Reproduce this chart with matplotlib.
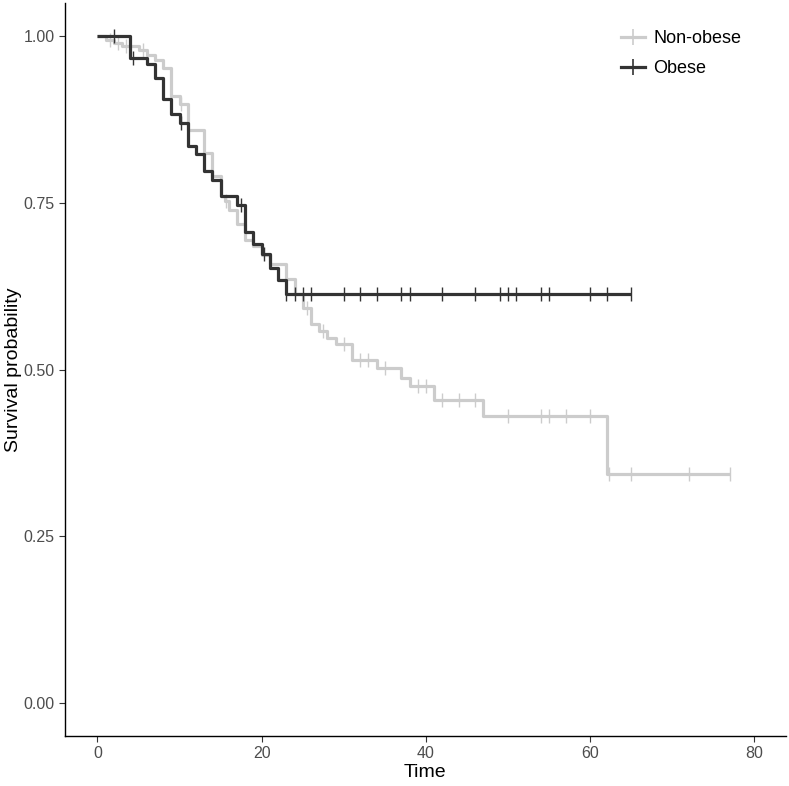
import matplotlib
matplotlib.use("Agg")
import matplotlib.pyplot as plt
from matplotlib.lines import Line2D

plt.rcParams['font.family'] = ['Liberation Sans', 'DejaVu Sans']

# Kaplan-Meier step values
nonobese_time = [0, 1, 2, 3, 5, 6, 7, 8, 9, 10, 11, 13, 14, 15, 15.5, 16, 17, 18, 19, 20, 21,
                 23, 24, 25, 26, 27, 28, 29, 31, 34, 37, 38, 41, 47, 62, 77]
nonobese_surv = [1.0, 0.995, 0.99, 0.985, 0.98, 0.972, 0.965, 0.953, 0.91, 0.898, 0.86, 0.825,
                 0.79, 0.76, 0.753, 0.74, 0.718, 0.695, 0.685, 0.672, 0.659,
                 0.636, 0.613, 0.593, 0.568, 0.558, 0.548, 0.539, 0.514, 0.5025, 0.488, 0.476,
                 0.455, 0.43, 0.344, 0.344]
nonobese_censor = [1.5, 2.5, 3.5, 5.5, 10.2, 15.7, 25.5, 27.5, 30, 32, 33, 35, 39, 40, 42, 44,
                   46, 50, 54, 55, 57, 60, 62.3, 65, 72, 77]

obese_time = [0, 4, 6, 7, 8, 9, 10, 11, 12, 13, 14, 15, 17, 18, 19, 20, 21, 22, 23, 65]
obese_surv = [1.0, 0.9675, 0.959, 0.9375, 0.906, 0.883, 0.870, 0.835, 0.823, 0.798, 0.785,
              0.760, 0.747, 0.706, 0.689, 0.673, 0.653, 0.634, 0.613, 0.613]
obese_censor = [2, 4.3, 10.2, 17.5, 20.3, 23, 24, 25, 26, 30, 32, 34, 37, 38, 42, 46, 49, 50,
                51, 54, 55, 60, 62, 65]


def surv_at(times, survs, t):
    s = survs[0]
    for ti, si in zip(times, survs):
        if ti <= t:
            s = si
    return s


fig = plt.figure(figsize=(7.89, 7.86), dpi=100)
ax = fig.add_axes([0.0824, 0.0636, 0.9134, 0.9324])

groups = [
    ("Non-obese", nonobese_time, nonobese_surv, nonobese_censor, "#cccccc"),
    ("Obese", obese_time, obese_surv, obese_censor, "#333333"),
]
for name, t, s, cens, col in groups:
    ax.step(t, s, where='post', color=col, lw=2.3, solid_capstyle='butt')
    cy = [surv_at(t, s, c) for c in cens]
    ax.plot(cens, cy, ls='none', marker='|', ms=10, mew=1.0, color=col)

handles = [Line2D([], [], color=c, lw=2.3, marker='+', ms=11, mew=1.2) for _, _, _, _, c in groups]
ax.legend(handles, [g[0] for g in groups], loc='upper left', bbox_to_anchor=(0.749, 0.985),
          frameon=False, fontsize=13, handlelength=1.3, handletextpad=0.5, labelspacing=0.72)

ax.set_xlim(-3.95, 83.8)
ax.set_ylim(-0.05, 1.05)
ax.set_xticks([0, 20, 40, 60, 80])
ax.set_yticks([0, 0.25, 0.5, 0.75, 1.0])
ax.set_yticklabels(["0.00", "0.25", "0.50", "0.75", "1.00"])
ax.tick_params(labelsize=11.5, labelcolor='#4d4d4d', color='#333333', length=4, width=0.8)
ax.set_xlabel("Time", fontsize=14, labelpad=2)
ax.set_ylabel("Survival probability", fontsize=14, labelpad=1)
for side in ['top', 'right']:
    ax.spines[side].set_visible(False)
for side in ['left', 'bottom']:
    ax.spines[side].set_linewidth(1.0)

fig.savefig("out.png", dpi=100)
